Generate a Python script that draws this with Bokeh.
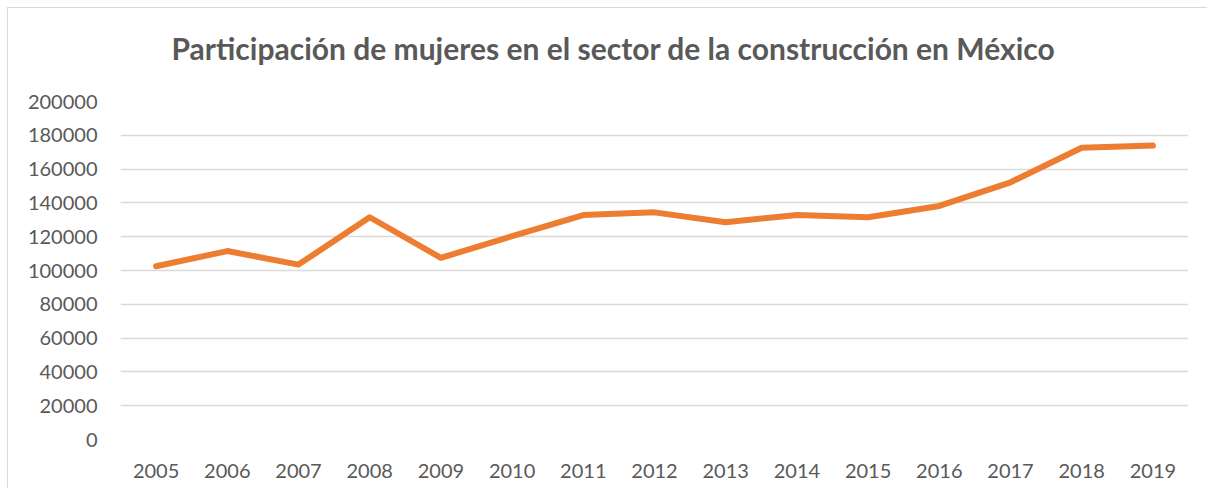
from bokeh.plotting import figure
from bokeh.models import FactorRange, Range1d, FixedTicker, NumeralTickFormatter, Title
from bokeh.embed import file_html
from bokeh.resources import INLINE

# ---- data ----
years = ["2005", "2006", "2007", "2008", "2009", "2010", "2011", "2012",
         "2013", "2014", "2015", "2016", "2017", "2018", "2019"]
mujeres = [102500, 111500, 103500, 131500, 107500, 120300, 132800, 134400,
           128600, 132900, 131500, 138200, 152200, 172600, 173900]
y_ticks = [0, 20000, 40000, 60000, 80000, 100000, 120000, 140000, 160000, 180000, 200000]
title_text = "Participación de mujeres en el sector de la construcción en México"

FONT = "Lato"
TXT = "#595959"
GRID = "#d9d9d9"

p = figure(
    width=1200, height=481,
    x_range=FactorRange(*years, range_padding=0),
    y_range=Range1d(0, 200000),
    output_backend="svg", toolbar_location=None, tools="",
    min_border_left=112, min_border_right=20, min_border_top=92, min_border_bottom=50,
)
p.title = Title(text=title_text, align="left", offset=51, standoff=38,
                text_font=FONT, text_font_size="30px", text_font_style="bold",
                text_color=TXT)
# thin spacer panel between title and plot area
p.add_layout(Title(text=" ", text_font_size="8px", standoff=6), "above")

p.line(x=years, y=mujeres, line_color="#ED7D31", line_width=6,
       line_cap="round", line_join="round")

p.outline_line_color = None
p.background_fill_color = "white"
p.border_fill_color = "white"
p.styles = {"margin-left": "7px", "margin-top": "7px",
            "border-left": "1px solid #d9d9d9", "border-top": "1px solid #d9d9d9"}

# grids
p.xgrid.grid_line_color = None
p.ygrid.grid_line_color = GRID
p.ygrid.grid_line_width = 1.5

# y axis
p.yaxis.ticker = FixedTicker(ticks=y_ticks)
p.yaxis.formatter = NumeralTickFormatter(format="0")
p.yaxis.axis_line_color = None
p.yaxis.major_tick_line_color = None
p.yaxis.minor_tick_line_color = None
p.yaxis.major_label_standoff = 17
p.yaxis.major_label_text_font = FONT
p.yaxis.major_label_text_font_size = "20px"
p.yaxis.major_label_text_color = TXT

# x axis
p.xaxis.axis_line_color = None
p.xaxis.major_tick_line_color = None
p.xaxis.minor_tick_line_color = None
p.xaxis.major_label_standoff = 18
p.xaxis.major_label_text_font = FONT
p.xaxis.major_label_text_font_size = "20px"
p.xaxis.major_label_text_color = TXT

open("out.html", "w").write(file_html(p, INLINE))
